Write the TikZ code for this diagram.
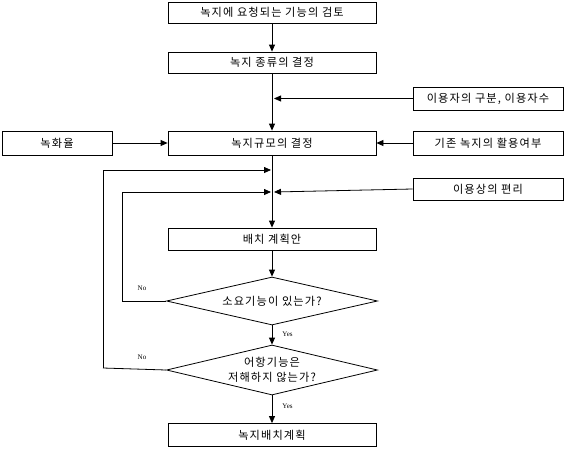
\documentclass[tikz,border=0pt]{standalone}
\usepackage{fontspec}
\setmainfont{Liberation Serif}
\newfontfamily\kr[LetterSpace=10]{Noto Sans CJK KR}
\usetikzlibrary{shapes.geometric,arrows.meta}
\begin{document}
\begin{tikzpicture}[x=1pt,y=-1pt,
  box/.style={draw,line width=0.8pt,rectangle,inner sep=0pt,font=\kr\fontsize{11.2}{13}\selectfont},
  dia/.style={draw,line width=0.8pt,diamond,inner sep=0pt,align=center,font=\kr\fontsize{11.2}{15}\selectfont},
  arr/.style={line width=0.8pt,-{Triangle[length=7pt,width=6pt]}},
  ln/.style={line width=0.8pt},
  lbl/.style={font=\fontsize{7}{8}\selectfont,inner sep=0pt}]
\useasboundingbox (0,0) rectangle (564,450);
\node[box,minimum width=208pt,minimum height=21pt] (b1) at (272,12.5) {녹지에 요청되는 기능의 검토};
\node[box,minimum width=208pt,minimum height=21pt] (b2) at (272,62.5) {녹지 종류의 결정};
\node[box,minimum width=208pt,minimum height=24pt] (b3) at (272,143) {녹지규모의 결정};
\node[box,minimum width=110pt,minimum height=24pt] (green) at (57,143) {녹화율};
\node[box,minimum width=150pt,minimum height=23pt] (user) at (488,98.5) {이용자의 구분, 이용자수};
\node[box,minimum width=150pt,minimum height=24pt] (exist) at (488,143) {기존 녹지의 활용여부};
\node[box,minimum width=150pt,minimum height=22pt] (conv) at (488,189) {이용상의 편리};
\node[box,minimum width=208pt,minimum height=22pt] (plan) at (272,239) {배치 계획안};
\node[dia,minimum width=211pt,minimum height=48pt,aspect=4.4] (d1) at (272,301) {소요기능이 있는가?};
\node[dia,minimum width=211pt,minimum height=50pt,aspect=4.2] (d2) at (272,370) {어항기능은\\저해하지 않는가?};
\node[box,minimum width=208pt,minimum height=23pt] (fin) at (272,435) {녹지배치계획};
\coordinate (c1) at (274,98.5);
\coordinate (c2) at (274,192);
\coordinate (c3) at (271,192);
\coordinate (c4) at (271,170);
\coordinate (l1) at (122,301);
\coordinate (l2) at (103,368);
\draw[arr] (b1) -- (b2);
\draw[arr] (b2) -- (b3);
\draw[arr] (user) -- (c1);
\draw[arr] (green) -- (b3);
\draw[arr] (exist) -- (b3);
\draw[arr] (b3) -- (plan);
\draw[arr] (conv.west) -- (c2);
\draw[arr] (plan) -- (d1);
\draw[arr] (d1) -- (d2) node[lbl,pos=0.45,right=10pt] {Yes};
\draw[arr] (d2) -- (fin) node[lbl,pos=0.4,right=10pt] {Yes};
\draw[ln] (d1.west) -- (l1);
\draw[arr] (l1) |- (c3);
\draw[ln] (d2.west) -- (l2);
\draw[arr] (l2) |- (c4);
\node[lbl] (no1) at (142,288) {No};
\node[lbl] (no2) at (142,357) {No};
\end{tikzpicture}
\end{document}
